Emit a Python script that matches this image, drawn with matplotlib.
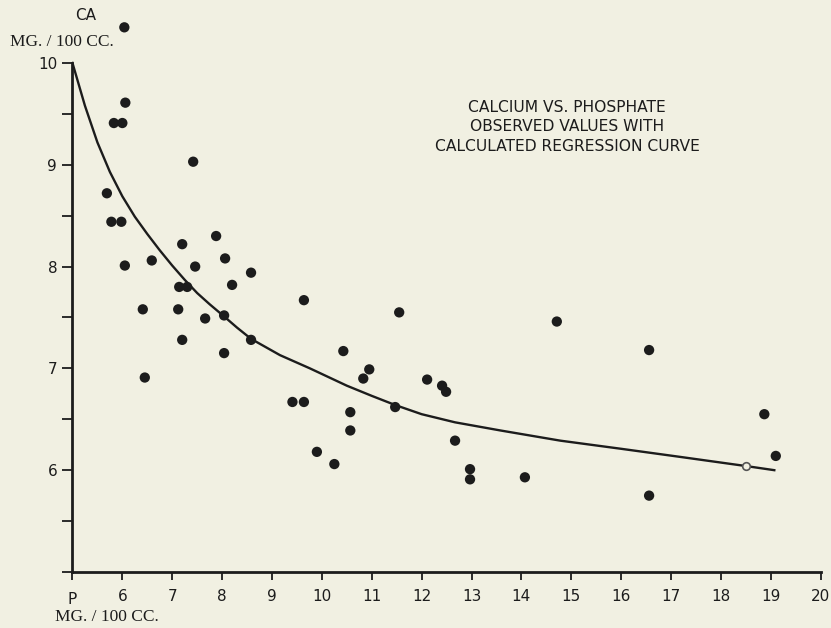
import matplotlib
matplotlib.use("Agg")
import matplotlib.pyplot as plt

# Observed values (P mg/100cc, Ca mg/100cc)
p_obs = [6.04, 6.06, 5.83, 6.00, 7.42, 5.69, 5.78, 5.98, 6.05, 6.59,
         7.20, 7.46, 7.14, 7.30, 6.41, 7.12, 7.20, 6.45, 7.88, 8.06,
         8.58, 8.20, 9.64, 7.66, 8.04, 8.58, 8.04, 10.43, 10.95, 10.83,
         11.55, 12.11, 12.41, 12.49, 9.41, 9.64, 11.47, 10.57, 10.57, 12.67,
         9.90, 10.25, 12.97, 12.97, 14.07, 18.87, 19.10, 16.56, 14.71, 16.56]
ca_obs = [10.35, 9.61, 9.41, 9.41, 9.03, 8.72, 8.44, 8.44, 8.01, 8.06,
          8.22, 8.00, 7.80, 7.80, 7.58, 7.58, 7.28, 6.91, 8.30, 8.08,
          7.94, 7.82, 7.67, 7.49, 7.52, 7.28, 7.15, 7.17, 6.99, 6.90,
          7.55, 6.89, 6.83, 6.77, 6.67, 6.67, 6.62, 6.57, 6.39, 6.29,
          6.18, 6.06, 6.01, 5.91, 5.93, 6.55, 6.14, 5.75, 7.46, 7.18]

# Calculated regression curve
p_curve = [5.00, 5.25, 5.50, 5.75, 6.00, 6.25, 6.50, 6.75, 7.00, 7.25,
           7.50, 7.75, 8.04, 8.30, 8.58, 9.16, 9.76, 10.50, 11.00, 11.47,
           12.00, 12.67, 13.58, 14.18, 14.78, 16.00, 17.19, 18.51, 19.07]
ca_curve = [10.00, 9.58, 9.22, 8.93, 8.69, 8.49, 8.32, 8.16, 8.01, 7.87,
            7.74, 7.63, 7.51, 7.40, 7.29, 7.13, 7.00, 6.83, 6.73, 6.64,
            6.55, 6.47, 6.39, 6.34, 6.29, 6.21, 6.13, 6.04, 6.00]
# hollow point on the curve
p_open = [18.51]
ca_open = [6.04]

x_ticks = list(range(5, 21))
x_ticklabels = [""] + [str(v) for v in range(6, 21)]
y_major = [5, 6, 7, 8, 9, 10]
y_majorlabels = ["", "6", "7", "8", "9", "10"]
y_minor = [5.5, 6.5, 7.5, 8.5, 9.5]

bg = "#f1f0e2"
ink = "#1c1c1c"

fig = plt.figure(figsize=(8.31, 6.28), dpi=100, facecolor=bg)
ax = fig.add_axes([0.0872, 0.0892, 0.9004, 0.8916])
ax.set_facecolor(bg)
ax.set_xlim(5, 20)
ax.set_ylim(5, 10.5)

ax.plot(p_curve, ca_curve, color=ink, lw=1.7, zorder=2, solid_joinstyle="round")
ax.scatter(p_obs, ca_obs, s=55, color=ink, edgecolors="none", zorder=3, clip_on=False)
ax.scatter(p_open, ca_open, s=30, facecolors=bg, edgecolors="#555555", linewidths=1.2, zorder=4)

for s in ["top", "right"]:
    ax.spines[s].set_visible(False)
ax.spines["left"].set_bounds(5, 10)
ax.spines["left"].set_linewidth(2.0)
ax.spines["bottom"].set_linewidth(2.0)
ax.spines["left"].set_color(ink)
ax.spines["bottom"].set_color(ink)

ax.set_xticks(x_ticks)
ax.set_xticklabels(x_ticklabels)
ax.set_yticks(y_major)
ax.set_yticklabels(y_majorlabels)
ax.set_yticks(y_minor, minor=True)
ax.tick_params(axis="x", direction="out", length=6, width=1.3, color=ink,
               labelsize=11, labelcolor=ink, pad=6)
ax.tick_params(axis="y", which="both", direction="out", length=7, width=1.3, color=ink,
               labelsize=11, labelcolor=ink, pad=4)

# Axis captions
fig.text(86 / 831, 1 - 15 / 628, "CA", ha="center", va="center", fontsize=11,
         color=ink, family="DejaVu Sans")
fig.text(62 / 831, 1 - 42 / 628, "MG. / 100 CC.", ha="center", va="center", fontsize=12.5,
         color=ink, family="Liberation Serif")
fig.text(72 / 831, 1 - 600 / 628, "P", ha="center", va="center", fontsize=11,
         color=ink, family="DejaVu Sans")
fig.text(107 / 831, 1 - 617 / 628, "MG. / 100 CC.", ha="center", va="center", fontsize=12.5,
         color=ink, family="Liberation Serif")

ax.text(0.661, 0.795, "CALCIUM VS. PHOSPHATE\nOBSERVED VALUES WITH\nCALCULATED REGRESSION CURVE",
        transform=ax.transAxes, ha="center", va="center", fontsize=11.2, color=ink,
        linespacing=1.4, family="DejaVu Sans")

fig.savefig("out.png", dpi=100, facecolor=bg)
